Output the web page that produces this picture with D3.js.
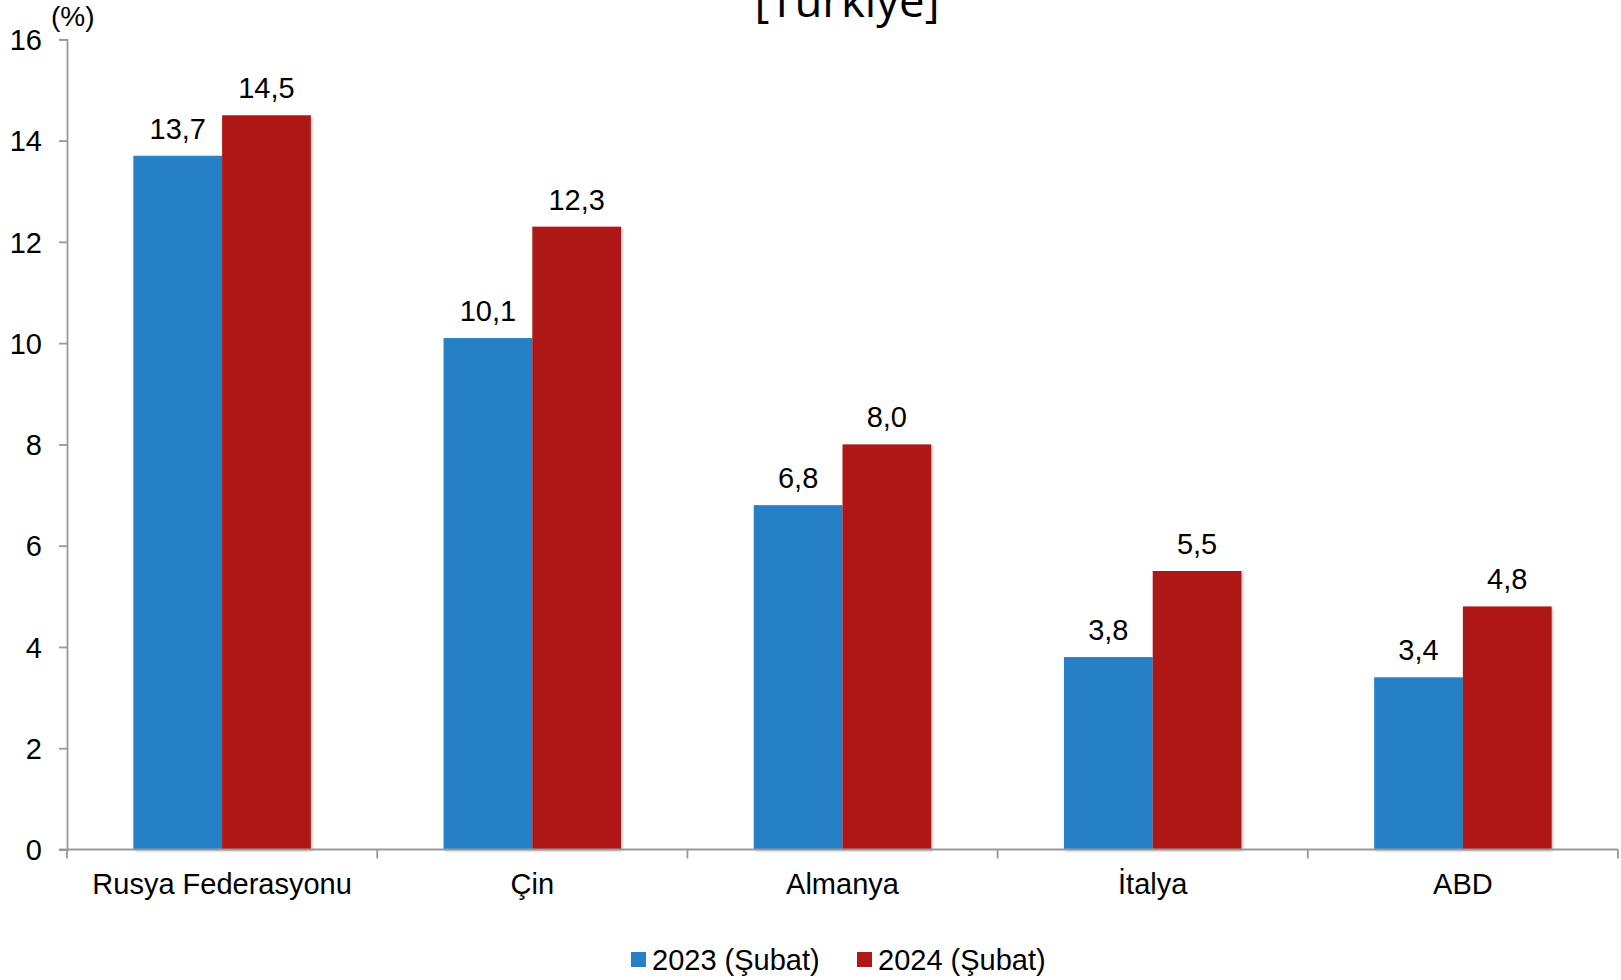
<!DOCTYPE html>
<html>
<head>
<meta charset="utf-8">
<script src="https://cdn.jsdelivr.net/npm/d3@7"></script>
<style>
html, body { margin: 0; padding: 0; background: #fff; }
svg { display: block; }
</style>
</head>
<body>
<svg id="chart" width="1621" height="980"></svg>
<script>
const categories = ["Rusya Federasyonu", "Çin", "Almanya", "İtalya", "ABD"];
const seriesNames = ["2023 (Şubat)", "2024 (Şubat)"];
const values2023 = [13.7, 10.1, 6.8, 3.8, 3.4];
const values2024 = [14.5, 12.3, 8.0, 5.5, 4.8];
const yTicks = [0, 2, 4, 6, 8, 10, 12, 14, 16];
const colors = ["#2680c6", "#af1718"];
const title = "[Türkiye]";
const unitLabel = "(%)";

(function () {
const svg = d3.select("#chart");
const pLeft = 67, pRight = 1618, pTop = 39.3, pBottom = 849.5;
const fontFam = "'Liberation Sans', Arial, sans-serif";
const fs = 29;

const x0 = d3.scaleBand().domain(categories).range([pLeft, pRight]).paddingInner(0).paddingOuter(0);
const x1 = d3.scaleBand().domain(seriesNames).range([0, x0.bandwidth()]).paddingInner(0).paddingOuter(0.748);
const y = d3.scaleLinear().domain([0, 16]).range([pBottom, pTop]);

const data = categories.map((c, i) => ({cat: c, vals: [values2023[i], values2024[i]]}));

const defs = svg.append("defs");
const f = defs.append("filter").attr("id", "sh").attr("x", "-10%").attr("y", "-10%").attr("width", "130%").attr("height", "130%");
f.append("feDropShadow").attr("dx", 1.5).attr("dy", 1.5).attr("stdDeviation", 1.2).attr("flood-color", "#000").attr("flood-opacity", 0.25);

const g = svg.append("g");
data.forEach(d => {
  seriesNames.forEach((s, si) => {
    g.append("rect")
      .attr("x", x0(d.cat) + x1(s))
      .attr("y", y(d.vals[si]))
      .attr("width", x1.bandwidth())
      .attr("height", y(0) - y(d.vals[si]))
      .attr("fill", colors[si])
      .attr("filter", "url(#sh)");
    g.append("text")
      .attr("x", x0(d.cat) + x1(s) + x1.bandwidth() / 2)
      .attr("y", y(d.vals[si]) - 17)
      .attr("text-anchor", "middle")
      .attr("font-family", fontFam)
      .attr("font-size", fs)
      .attr("fill", "#000")
      .text(d3.format(".1f")(d.vals[si]).replace(".", ","));
  });
});

const yAxis = d3.axisLeft(y).tickValues(yTicks).tickSize(8).tickPadding(17).tickFormat(d3.format("d"));
const ya = svg.append("g").attr("transform", `translate(${pLeft},0)`).call(yAxis);
ya.select(".domain").attr("stroke", "#999").attr("stroke-width", 1.8);
ya.selectAll(".tick line").attr("stroke", "#999").attr("stroke-width", 1.8);
ya.selectAll(".tick text").attr("font-family", fontFam).attr("font-size", fs).attr("fill", "#000").attr("dy", "0.35em");

const xa = svg.append("g").attr("transform", `translate(0,${pBottom})`);
xa.append("line").attr("x1", pLeft - 8).attr("x2", pRight).attr("y1", 0).attr("y2", 0).attr("stroke", "#999").attr("stroke-width", 1.8);
const bounds = categories.map(c => x0(c)).concat([x0(categories[categories.length - 1]) + x0.bandwidth()]);
xa.selectAll("line.tk").data(bounds).enter().append("line")
  .attr("x1", d => d).attr("x2", d => d).attr("y1", 0).attr("y2", 9)
  .attr("stroke", "#999").attr("stroke-width", 1.8);
xa.selectAll("text.cat").data(categories).enter().append("text")
  .attr("x", d => x0(d) + x0.bandwidth() / 2)
  .attr("y", 44)
  .attr("text-anchor", "middle")
  .attr("font-family", fontFam)
  .attr("font-size", fs)
  .attr("fill", "#000")
  .text(d => d);

svg.append("text").attr("x", 51).attr("y", 26).attr("font-family", fontFam).attr("font-size", 28).attr("fill", "#000").text(unitLabel);

svg.append("text").attr("x", 847).attr("y", 17).attr("text-anchor", "middle")
  .attr("font-family", "'Open Sans', sans-serif").attr("font-size", 45.5).attr("fill", "#000").text(title);

const legX = [631, 857];
seriesNames.forEach((s, i) => {
  svg.append("rect").attr("x", legX[i]).attr("y", 952).attr("width", 15).attr("height", 15).attr("fill", colors[i]);
  svg.append("text").attr("x", legX[i] + 21).attr("y", 970)
    .attr("font-family", fontFam).attr("font-size", fs).attr("fill", "#000").text(s);
});
})();
</script>
</body>
</html>
